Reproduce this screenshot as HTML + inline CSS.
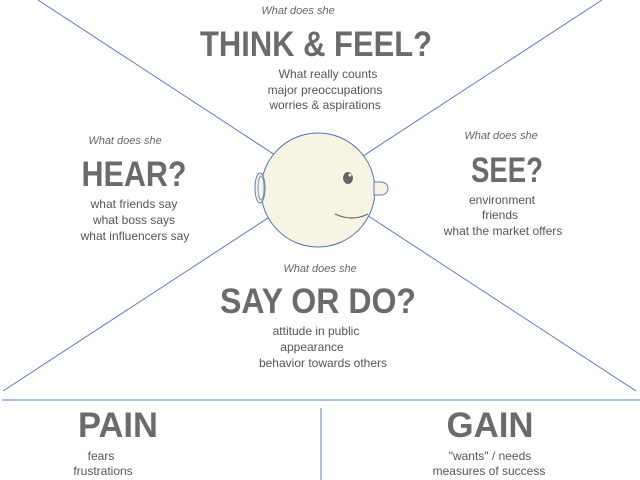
<!DOCTYPE html>
<html><head><meta charset="utf-8"><style>
html,body{margin:0;padding:0;background:#fff;width:640px;height:480px;overflow:hidden}
text{font-family:"Liberation Sans",sans-serif}
.h{font-weight:bold;fill:#6b6b6b}
.i{font-style:italic;fill:#666;font-size:11px}
.s{fill:#555;font-size:12px}
</style></head><body>
<svg width="640" height="480" viewBox="0 0 640 480" xmlns="http://www.w3.org/2000/svg">
<g stroke="#5b7fbf" stroke-width="1" fill="none">
<line x1="38" y1="0" x2="636" y2="391"/>
<line x1="602" y1="0" x2="3" y2="391"/>
<line x1="321" y1="408" x2="321" y2="480"/>
</g>
<line x1="2" y1="400" x2="640" y2="400" stroke="#a9bfde" stroke-width="2"/>
<circle cx="318" cy="190" r="57" fill="#f8f4e3" stroke="#4f74b8"/>
<ellipse cx="260" cy="188" rx="5" ry="15" fill="#f8f4e3" stroke="#5b7fbf"/>
<ellipse cx="261" cy="188" rx="3" ry="12" fill="none" stroke="#5b7fbf" stroke-width="0.8"/>
<path d="M374,182 L381,182 A7,6.5 0 0 1 381,195 L374,195 Z" fill="#f8f4e3" stroke="#5b7fbf"/>
<ellipse cx="348" cy="178" rx="5" ry="6" fill="#666"/>
<circle cx="350" cy="175" r="1.5" fill="#fff"/>
<path d="M335,214 Q352,222 368,214" fill="none" stroke="#666" stroke-width="1.2"/>

<text class="i" x="298" y="14" text-anchor="middle">What does she</text>
<text class="h" x="316" y="56" font-size="35" text-anchor="middle" textLength="232" lengthAdjust="spacingAndGlyphs">THINK &amp; FEEL?</text>
<text class="s" x="328" y="78" text-anchor="middle">What really counts</text>
<text class="s" x="325" y="94" text-anchor="middle">major preoccupations</text>
<text class="s" x="325" y="109" text-anchor="middle">worries &amp; aspirations</text>

<text class="i" x="125" y="144" text-anchor="middle">What does she</text>
<text class="h" x="134" y="186" font-size="35" text-anchor="middle" textLength="105" lengthAdjust="spacingAndGlyphs">HEAR?</text>
<text class="s" x="134" y="208" text-anchor="middle">what friends say</text>
<text class="s" x="134" y="224" text-anchor="middle">what boss says</text>
<text class="s" x="135" y="240" text-anchor="middle">what influencers say</text>

<text class="i" x="501" y="139" text-anchor="middle">What does she</text>
<text class="h" x="507" y="182" font-size="35" text-anchor="middle" textLength="72" lengthAdjust="spacingAndGlyphs">SEE?</text>
<text class="s" x="502" y="204" text-anchor="middle">environment</text>
<text class="s" x="500" y="219" text-anchor="middle">friends</text>
<text class="s" x="503" y="235" text-anchor="middle">what the market offers</text>

<text class="i" x="320" y="272" text-anchor="middle">What does she</text>
<text class="h" x="318" y="313" font-size="35" text-anchor="middle" textLength="196" lengthAdjust="spacingAndGlyphs">SAY OR DO?</text>
<text class="s" x="316" y="335" text-anchor="middle">attitude in public</text>
<text class="s" x="312" y="351" text-anchor="middle">appearance</text>
<text class="s" x="323" y="367" text-anchor="middle">behavior towards others</text>

<text class="h" x="118" y="437" font-size="35" text-anchor="middle" textLength="80" lengthAdjust="spacingAndGlyphs">PAIN</text>
<text class="s" x="101" y="460" text-anchor="middle">fears</text>
<text class="s" x="103" y="475" text-anchor="middle">frustrations</text>

<text class="h" x="490" y="437" font-size="35" text-anchor="middle" textLength="87" lengthAdjust="spacingAndGlyphs">GAIN</text>
<text class="s" x="490" y="460" text-anchor="middle">"wants" / needs</text>
<text class="s" x="489" y="475" text-anchor="middle">measures of success</text>
</svg>
</body></html>
